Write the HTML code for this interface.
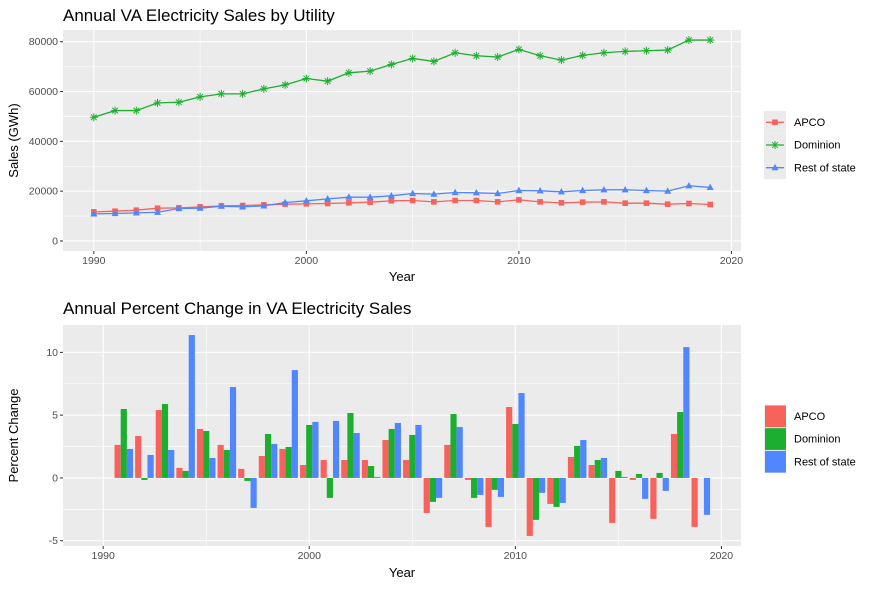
<!DOCTYPE html>
<html><head><meta charset="utf-8">
<style>
body{margin:0;background:#fff;font-family:"Liberation Sans",Arial,sans-serif;}
svg text{font-family:"Liberation Sans",Arial,sans-serif;}
</style></head>
<body>
<svg id="chart" width="876" height="588" viewBox="0 0 876 588" xmlns="http://www.w3.org/2000/svg"></svg>
<script>
const years = [1990,1991,1992,1993,1994,1995,1996,1997,1998,1999,2000,2001,2002,2003,2004,2005,2006,2007,2008,2009,2010,2011,2012,2013,2014,2015,2016,2017,2018,2019];
const salesAPCO = [11680,11950,12350,13150,13290,13690,14090,14230,14500,14770,14900,15030,15300,15570,16110,16240,15700,16240,16240,15700,16510,15700,15300,15570,15700,15170,15170,14770,15030,14630];
const salesDominion = [49660,52350,52350,55440,55700,57850,59060,59060,61070,62680,65230,64160,67520,68190,70870,73290,72080,75570,74360,73830,76910,74360,72620,74500,75570,76110,76380,76640,80670,80670];
const salesRest = [10870,11010,11280,11540,13020,13150,13960,13690,14090,15440,16110,16910,17580,17580,18120,19060,18790,19460,19330,19060,20270,20130,19730,20270,20540,20540,20270,20000,22150,21480];
const pctAPCO = [null,2.63,3.34,5.41,0.80,3.90,2.63,0.72,1.75,2.31,1.03,1.43,1.43,1.43,3.02,1.43,-2.79,2.63,-0.16,-3.90,5.65,-4.62,-2.07,1.67,1.03,-3.58,-0.16,-3.26,3.50,-3.90];
const pctDominion = [null,5.49,-0.16,5.89,0.56,3.74,2.23,-0.24,3.50,2.47,4.22,-1.59,5.17,0.95,3.90,3.42,-1.91,5.09,-1.59,-0.95,4.30,-3.34,-2.31,2.55,1.43,0.56,0.32,0.40,5.25,0];
const pctRest = [null,2.31,1.83,2.23,11.38,1.59,7.24,-2.39,2.71,8.59,4.46,4.54,3.58,0.08,4.38,4.22,-1.59,4.06,-1.35,-1.51,6.76,-1.19,-1.99,3.02,1.59,0.08,-1.67,-1.03,10.42,-2.94];
const seriesNames = ["APCO","Dominion","Rest of state"];
const topYTicks = [0,20000,40000,60000,80000];
const botYTicks = [-5,0,5,10];
const xTicks = [1990,2000,2010,2020];

const C = ["#F8625C","#1CAF2F","#5087FF"];
const NS="http://www.w3.org/2000/svg";
const svg=document.getElementById('chart');
function el(tag,attrs,parent){const e=document.createElementNS(NS,tag);for(const k in attrs)e.setAttribute(k,attrs[k]);(parent||svg).appendChild(e);return e;}
function txt(s,attrs,parent){const e=el('text',attrs,parent);e.textContent=s;return e;}

// ---------- TOP PANEL ----------
const T={x0:63,x1:741,y0:30,y1:251};
const tx=v=>T.x0+(v-1988.55)/(2020.45-1988.55)*(T.x1-T.x0);
const ty=v=>T.y1-(v-(-4034))/(84704+4034)*(T.y1-T.y0);
const tp=el('g',{});


el('rect',{x:T.x0,y:T.y0,width:T.x1-T.x0,height:T.y1-T.y0,fill:'#EBEBEB'},tp);
for(let v=10000;v<=80000;v+=20000) el('line',{x1:T.x0,x2:T.x1,y1:ty(v),y2:ty(v),stroke:'#fff','stroke-width':0.55},tp);
for(let v=1995;v<=2015;v+=10) el('line',{x1:tx(v),x2:tx(v),y1:T.y0,y2:T.y1,stroke:'#fff','stroke-width':0.55},tp);
topYTicks.forEach(v=>{
  el('line',{x1:T.x0,x2:T.x1,y1:ty(v),y2:ty(v),stroke:'#fff','stroke-width':1.1},tp);
  el('line',{x1:T.x0-3,x2:T.x0,y1:ty(v),y2:ty(v),stroke:'#333','stroke-width':1},tp);
  const t=txt(String(v),{x:T.x0-5,y:ty(v)+3.5,'text-anchor':'end','font-size':10.5,fill:'#4D4D4D'},tp);
  
  
});
xTicks.forEach(v=>{
  el('line',{x1:tx(v),x2:tx(v),y1:T.y0,y2:T.y1,stroke:'#fff','stroke-width':1.1},tp);
  el('line',{x1:tx(v),x2:tx(v),y1:T.y1,y2:T.y1+3,stroke:'#333','stroke-width':1},tp);
  const t=txt(String(v),{x:tx(v),y:T.y1+13,'text-anchor':'middle','font-size':10.5,fill:'#4D4D4D'},tp);
  
  
});
function marker(shape,cx,cy,color,g){
  if(shape===0) el('rect',{x:cx-2.8,y:cy-2.8,width:5.6,height:5.6,fill:color},g);
  else if(shape===1){
    for(const a of [0,45,90,135]){const r=a*Math.PI/180;el('line',{x1:cx-4*Math.cos(r),y1:cy-4*Math.sin(r),x2:cx+4*Math.cos(r),y2:cy+4*Math.sin(r),stroke:color,'stroke-width':1},g);}
  } else el('polygon',{points:`${cx},${cy-3.8} ${cx+3.5},${cy+2.6} ${cx-3.5},${cy+2.6}`,fill:color},g);
}
[salesAPCO,salesDominion,salesRest].forEach((arr,si)=>{
  const g=el('g',{},tp);
  
  
  el('polyline',{points:arr.map((v,i)=>tx(years[i])+','+ty(v)).join(' '),fill:'none',stroke:C[si],'stroke-width':1.3},g);
  arr.forEach((v,i)=>marker(si,tx(years[i]),ty(v),C[si],g));
});
let t1=txt('Annual VA Electricity Sales by Utility',{x:63,y:21,'font-size':17,fill:'#000'});

let t2=txt('Sales (GWh)',{x:18,y:(T.y0+T.y1)/2,'font-size':13,'text-anchor':'middle',transform:`rotate(-90 18 ${(T.y0+T.y1)/2})`});

let t3=txt('Year',{x:(T.x0+T.x1)/2,y:281,'font-size':13,'text-anchor':'middle'});

// top legend
seriesNames.forEach((n,i)=>{
  const g=el('g',{});
  
  
  const y=111+i*22.7;
  el('rect',{x:764,y:y,width:22,height:22.7,fill:'#EBEBEB'},g);
  el('line',{x1:766,x2:784,y1:y+11.3,y2:y+11.3,stroke:C[i],'stroke-width':1.3},g);
  marker(i,775,y+11.3,C[i],g);
  txt(n,{x:794,y:y+15,'font-size':11,fill:'#000'},g);
});

// ---------- BOTTOM PANEL ----------
const B={x0:63,x1:741,y0:325,y1:546};
const bx=v=>B.x0+(v-1988.05)/(2020.95-1988.05)*(B.x1-B.x0);
const by=v=>B.y1-(v-(-5.42))/(12.18+5.42)*(B.y1-B.y0);
const bp=el('g',{});


el('rect',{x:B.x0,y:B.y0,width:B.x1-B.x0,height:B.y1-B.y0,fill:'#EBEBEB'},bp);
for(let v=-2.5;v<=12;v+=5) el('line',{x1:B.x0,x2:B.x1,y1:by(v),y2:by(v),stroke:'#fff','stroke-width':0.55},bp);
for(let v=1995;v<=2015;v+=10) el('line',{x1:bx(v),x2:bx(v),y1:B.y0,y2:B.y1,stroke:'#fff','stroke-width':0.55},bp);
botYTicks.forEach(v=>{
  el('line',{x1:B.x0,x2:B.x1,y1:by(v),y2:by(v),stroke:'#fff','stroke-width':1.1},bp);
  el('line',{x1:B.x0-3,x2:B.x0,y1:by(v),y2:by(v),stroke:'#333','stroke-width':1},bp);
  const t=txt(String(v),{x:B.x0-5,y:by(v)+3.5,'text-anchor':'end','font-size':10.5,fill:'#4D4D4D'},bp);
  
  
});
xTicks.forEach(v=>{
  el('line',{x1:bx(v),x2:bx(v),y1:B.y0,y2:B.y1,stroke:'#fff','stroke-width':1.1},bp);
  el('line',{x1:bx(v),x2:bx(v),y1:B.y1,y2:B.y1+3,stroke:'#333','stroke-width':1},bp);
  const t=txt(String(v),{x:bx(v),y:B.y1+13,'text-anchor':'middle','font-size':10.5,fill:'#4D4D4D'},bp);
  
  
});
const bw=(bx(1)-bx(0))*0.3;
[pctAPCO,pctDominion,pctRest].forEach((arr,si)=>{
  arr.forEach((v,i)=>{
    if(v===null) return;
    const cx=bx(years[i])+(si-1)*bw;
    const y0=by(0),yv=by(v);
    const r=el('rect',{x:cx-bw/2,y:Math.min(y0,yv),width:bw,height:Math.abs(yv-y0),fill:C[si]},bp);
    
    
  });
});
let t4=txt('Annual Percent Change in VA Electricity Sales',{x:63,y:314,'font-size':17,fill:'#000'});

let t5=txt('Percent Change',{x:18,y:(B.y0+B.y1)/2,'font-size':13,'text-anchor':'middle',transform:`rotate(-90 18 ${(B.y0+B.y1)/2})`});

let t6=txt('Year',{x:(B.x0+B.x1)/2,y:577,'font-size':13,'text-anchor':'middle'});

seriesNames.forEach((n,i)=>{
  const g=el('g',{});
  
  
  const y=405+i*22.7;
  el('rect',{x:764,y:y,width:22,height:22.7,fill:'#EBEBEB'},g);
  el('rect',{x:765,y:y+0.5,width:21,height:21.7,fill:C[i]},g);
  txt(n,{x:794,y:y+15,'font-size':11,fill:'#000'},g);
});
</script>
</body></html>
